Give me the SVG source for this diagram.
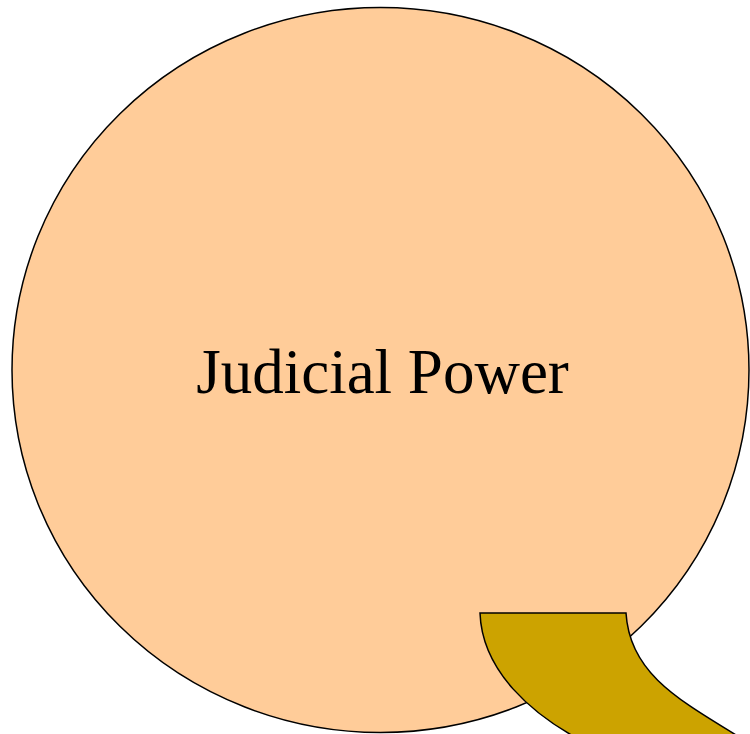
<svg xmlns="http://www.w3.org/2000/svg" width="750" height="734" viewBox="0 0 750 734">
<style>
.shape{stroke:#000;stroke-width:1.5}
.label{font-family:"Liberation Serif","Times New Roman",serif;font-size:63px;fill:#000}
</style>
<rect width="750" height="734" fill="#fff"/>
<g id="judicial-power">
<ellipse class="shape" cx="380.5" cy="370" rx="368.5" ry="362.5" fill="#ffcc99"/>
<text class="label" x="382.5" y="393" text-anchor="middle">Judicial Power</text>
</g>
<g id="tab">
<path class="shape" fill="#cca300" d="M480,613 L626,613 C630,680 690,705 760,750 L590,745 C530,715 482,670 480,613 Z"/>
</g>
<g id="connectors"></g>
</svg>
